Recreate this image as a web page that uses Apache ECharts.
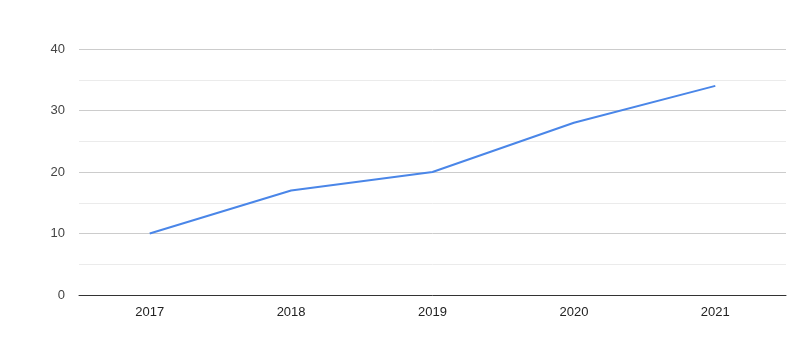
<!DOCTYPE html>
<html><head><meta charset="utf-8">
<script src="https://cdn.jsdelivr.net/npm/echarts@6/dist/echarts.min.js"></script>
<style>html,body{margin:0;padding:0;background:#fff}#c{width:791px;height:352px}</style>
</head><body><div id="c"></div>
<script>
const categories = ['2017', '2018', '2019', '2020', '2021'];
const values = [10, 17, 20, 28, 34];
const yTicks = [0, 10, 20, 30, 40];

const chart = echarts.init(document.getElementById('c'), null, {renderer: 'canvas'});
chart.setOption({
  animation: false,
  backgroundColor: '#fff',
  grid: {left: 79, right: 5, top: 49, bottom: 57},
  xAxis: {
    type: 'category',
    data: categories,
    boundaryGap: true,
    axisLine: {show: true, lineStyle: {color: '#333', width: 1}},
    axisTick: {show: false},
    axisLabel: {color: '#222', fontFamily: 'Liberation Sans, Arial', fontSize: 13, margin: 11},
    splitLine: {show: false}
  },
  yAxis: {
    type: 'value',
    min: yTicks[0],
    max: yTicks[yTicks.length - 1],
    interval: 10,
    axisLine: {show: false},
    axisTick: {show: false},
    axisLabel: {color: '#444', fontFamily: 'Liberation Sans, Arial', fontSize: 13, margin: 14},
    splitLine: {show: true, lineStyle: {color: '#ccc', width: 1}},
    minorTick: {show: false, splitNumber: 2},
    minorSplitLine: {show: true, lineStyle: {color: '#ebebeb', width: 1}}
  },
  series: [{
    type: 'line',
    data: values,
    symbol: 'none',
    lineStyle: {color: '#4a86e8', width: 2},
    itemStyle: {color: '#4a86e8'}
  }]
});
</script></body></html>
